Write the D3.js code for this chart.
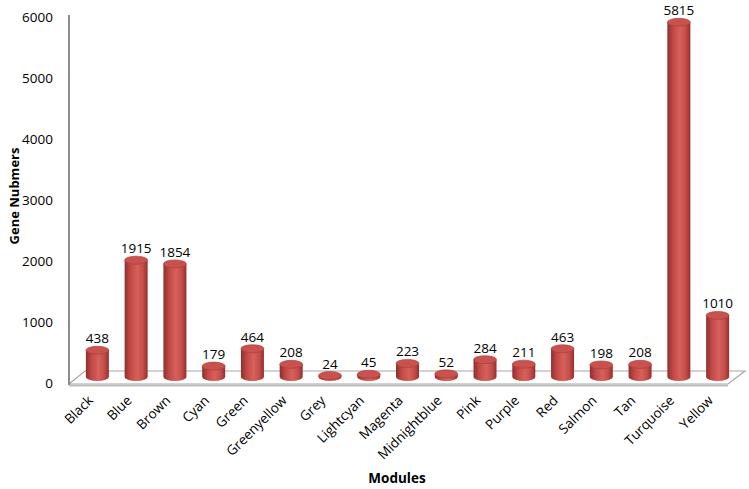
<!DOCTYPE html>
<html><head><meta charset="utf-8">
<script src="https://cdn.jsdelivr.net/npm/d3@7"></script>
<style>body{margin:0;background:#fff}text{font-family:"Open Sans","Noto Sans",sans-serif}</style>
</head><body><svg id="c" width="749" height="489"></svg>
<script>
const categories = ["Black","Blue","Brown","Cyan","Green","Greenyellow","Grey","Lightcyan","Magenta","Midnightblue","Pink","Purple","Red","Salmon","Tan","Turquoise","Yellow"];
const values = [438,1915,1854,179,464,208,24,45,223,52,284,211,463,198,208,5815,1010];
const yTicks = [0,1000,2000,3000,4000,5000,6000];

const svg = d3.select("#c");
const defs = svg.append("defs");
const g1 = defs.append("linearGradient").attr("id","cyl").attr("x1","0").attr("x2","1").attr("y1","0").attr("y2","0");
[[0,"#8e2f2c"],[0.25,"#c14a46"],[0.55,"#d8605b"],[0.8,"#c24d49"],[1,"#962f2c"]].forEach(([o,c])=>g1.append("stop").attr("offset",o).attr("stop-color",c));

const yAxisScale = d3.scaleLinear().domain([0,6000]).range([383,17]);
const yBar = d3.scaleLinear().domain([0,6000]).range([377,11]);
const x = d3.scaleBand().domain(categories).range([78,737]).padding(0);
const bw = 23, ry = 4;

// floor
const floor = svg.append("g").attr("stroke","#a6a6a6").attr("fill","none");
floor.append("path").attr("d","M69,384 L728,384 L745,371 L85,371 L69,384").attr("stroke-width",1.2);
floor.append("line").attr("x1",69).attr("x2",728).attr("y1",385.5).attr("y2",385.5).attr("stroke","#bfbfbf").attr("stroke-width",2);

// y axis
const ya = svg.append("g").attr("transform","translate(69,0)").call(d3.axisLeft(yAxisScale).tickValues(yTicks).tickSize(0).tickPadding(16).tickFormat(d3.format("d")));
ya.select(".domain").attr("stroke","#8c8c8c").attr("stroke-width",2).attr("d","M0,15V385");
ya.selectAll("text").attr("font-size",13.5).attr("fill","#000");

// bars
const bars = svg.append("g").selectAll("g").data(categories).join("g");
bars.each(function(c,i){
  const g = d3.select(this);
  const cx = x(c)+x.bandwidth()/2;
  const y0 = yBar(0), y1 = yBar(values[i]);
  g.append("path")
   .attr("d",`M${cx-bw/2},${y1} L${cx-bw/2},${y0} A${bw/2},${ry} 0 0 0 ${cx+bw/2},${y0} L${cx+bw/2},${y1} Z`)
   .attr("fill","url(#cyl)");
  g.append("ellipse").attr("cx",cx).attr("cy",y1).attr("rx",bw/2).attr("ry",ry)
   .attr("fill","#c9524e").attr("stroke","#a23a37").attr("stroke-width",0.6);
  g.append("text").attr("x",cx).attr("y",y1-7).attr("text-anchor","middle")
   .attr("font-size",13.5).attr("fill","#000").text(values[i]);
  g.append("text").attr("text-anchor","end").attr("font-size",13.5).attr("fill","#000")
   .attr("transform",`translate(${cx-7},${398}) rotate(-45)`).attr("dy","0.35em").text(c);
});

svg.append("text").attr("transform","translate(14,196) rotate(-90)").attr("text-anchor","middle")
  .attr("font-size",13).attr("font-weight","bold").attr("dy","0.35em").text("Gene Nubmers");
svg.append("text").attr("x",397).attr("y",483).attr("text-anchor","middle")
  .attr("font-size",13.5).attr("font-weight","bold").text("Modules");
</script></body></html>
